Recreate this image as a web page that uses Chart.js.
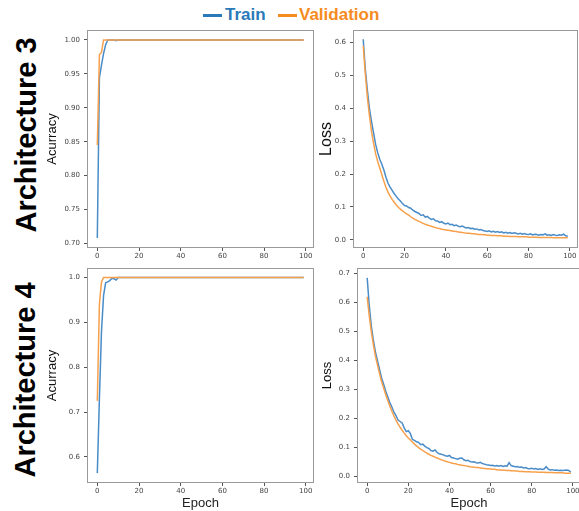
<!DOCTYPE html>
<html>
<head>
<meta charset="utf-8">
<script src="https://cdn.jsdelivr.net/npm/chart.js@4.4.1/dist/chart.umd.min.js"></script>
<style>
  html, body { margin: 0; padding: 0; background: #fff; }
  body { width: 579px; height: 511px; position: relative; overflow: hidden; font-family: "Liberation Sans", Arial, sans-serif; }
  canvas { position: absolute; }
  .row-label { position: absolute; font-weight: bold; font-size: 29px; line-height: 29px; white-space: nowrap; color: #000; transform: translate(-50%, -50%) rotate(-90deg); }
  .dash { position: absolute; height: 3px; width: 19px; }
  .leg { position: absolute; font-weight: bold; font-size: 17px; line-height: 17px; white-space: nowrap; }
</style>
</head>
<body>
<div class="dash" style="left:203px; top:14px; background:#2a7ab9"></div>
<div class="leg" style="left:225px; top:6px; color:#2a7ab9">Train</div>
<div class="dash" style="left:278px; top:14px; background:#f68b1f"></div>
<div class="leg" style="left:299px; top:6px; color:#f68b1f">Validation</div>

<div class="row-label" style="left:26px; top:135px">Architecture 3</div>
<div class="row-label" style="left:25px; top:380px">Architecture 4</div>

<canvas id="acc3" width="278" height="245" style="left:40px; top:20px"></canvas>
<canvas id="loss3" width="278" height="245" style="left:312px; top:20px"></canvas>
<canvas id="acc4" width="278" height="253" style="left:40px; top:258px"></canvas>
<canvas id="loss4" width="278" height="253" style="left:312px; top:258px"></canvas>

<script>
// values, one entry per epoch (0..99)
const trainAcc3 = [
  0.708,0.944,0.963,0.980,0.993,1.000,1.000,1.000,1.000,0.999,
  1,1,1,1,1,1,1,1,1,1, 1,1,1,1,1,1,1,1,1,1, 1,1,1,1,1,1,1,1,1,1,
  1,1,1,1,1,1,1,1,1,1, 1,1,1,1,1,1,1,1,1,1, 1,1,1,1,1,1,1,1,1,1,
  1,1,1,1,1,1,1,1,1,1, 1,1,1,1,1,1,1,1,1,1, 1,1,1,1,1,1,1,1,1,1
];
const valAcc3 = [
  0.845,0.978,0.982,1,1,1,1,1,1,1,
  1,1,1,1,1,1,1,1,1,1, 1,1,1,1,1,1,1,1,1,1, 1,1,1,1,1,1,1,1,1,1,
  1,1,1,1,1,1,1,1,1,1, 1,1,1,1,1,1,1,1,1,1, 1,1,1,1,1,1,1,1,1,1,
  1,1,1,1,1,1,1,1,1,1, 1,1,1,1,1,1,1,1,1,1, 1,1,1,1,1,1,1,1,1,1
];
const trainLoss3 = [
  0.610,0.520,0.455,0.400,0.360,0.325,0.290,0.265,0.245,0.230,
  0.212,0.190,0.172,0.160,0.150,0.140,0.132,0.124,0.118,0.110,
  0.104,0.103,0.098,0.096,0.090,0.086,0.083,0.080,0.074,0.076,
  0.069,0.071,0.066,0.062,0.064,0.058,0.057,0.053,0.055,0.050,
  0.048,0.051,0.046,0.047,0.043,0.045,0.041,0.040,0.042,0.038,
  0.036,0.037,0.034,0.035,0.032,0.033,0.030,0.031,0.028,0.027,
  0.025,0.027,0.024,0.026,0.023,0.025,0.022,0.024,0.021,0.023,
  0.020,0.022,0.019,0.021,0.020,0.018,0.020,0.017,0.019,0.017,
  0.016,0.018,0.015,0.017,0.016,0.014,0.016,0.015,0.018,0.014,
  0.015,0.013,0.016,0.014,0.013,0.015,0.014,0.017,0.012,0.011
];
const valLoss3 = [
  0.590,0.505,0.434,0.378,0.330,0.293,0.262,0.238,0.218,0.198,
  0.178,0.160,0.145,0.133,0.123,0.114,0.106,0.099,0.093,0.088,
  0.083,0.079,0.075,0.070,0.066,0.062,0.059,0.056,0.053,0.050,
  0.047,0.045,0.043,0.041,0.039,0.037,0.035,0.034,0.032,0.031,
  0.030,0.029,0.028,0.027,0.026,0.025,0.024,0.023,0.022,0.021,
  0.020,0.020,0.019,0.018,0.018,0.017,0.016,0.016,0.015,0.015,
  0.014,0.014,0.013,0.013,0.013,0.012,0.012,0.012,0.011,0.011,
  0.011,0.010,0.010,0.010,0.010,0.009,0.009,0.009,0.009,0.009,
  0.008,0.008,0.008,0.008,0.008,0.007,0.007,0.007,0.007,0.007,
  0.007,0.007,0.006,0.006,0.006,0.006,0.006,0.006,0.006,0.006
];
const trainAcc4 = [
  0.564,0.730,0.880,0.960,0.988,0.990,0.993,0.998,0.997,0.994,
  1,1,1,1,1,1,1,1,1,1, 1,1,1,1,1,1,1,1,1,1, 1,1,1,1,1,1,1,1,1,1,
  1,1,1,1,1,1,1,1,1,1, 1,1,1,1,1,1,1,1,1,1, 1,1,1,1,1,1,1,1,1,1,
  1,1,1,1,1,1,1,1,1,1, 1,1,1,1,1,1,1,1,1,1, 1,1,1,1,1,1,1,1,1,1
];
const valAcc4 = [
  0.725,0.940,0.990,1,1,1,1,1,1,1,
  1,1,1,1,1,1,1,1,1,1, 1,1,1,1,1,1,1,1,1,1, 1,1,1,1,1,1,1,1,1,1,
  1,1,1,1,1,1,1,1,1,1, 1,1,1,1,1,1,1,1,1,1, 1,1,1,1,1,1,1,1,1,1,
  1,1,1,1,1,1,1,1,1,1, 1,1,1,1,1,1,1,1,1,1, 1,1,1,1,1,1,1,1,1,1
];
const trainLoss4 = [
  0.685,0.590,0.520,0.470,0.430,0.400,0.370,0.340,0.318,0.295,
  0.275,0.255,0.240,0.222,0.210,0.195,0.190,0.185,0.168,0.155,
  0.158,0.148,0.128,0.125,0.120,0.118,0.110,0.112,0.105,0.100,
  0.097,0.090,0.088,0.092,0.083,0.079,0.077,0.075,0.072,0.070,
  0.073,0.066,0.064,0.062,0.060,0.063,0.064,0.058,0.055,0.056,
  0.052,0.050,0.051,0.048,0.047,0.049,0.045,0.043,0.041,0.040,
  0.038,0.039,0.037,0.038,0.036,0.038,0.035,0.037,0.036,0.048,
  0.038,0.036,0.034,0.035,0.032,0.033,0.030,0.031,0.028,0.027,
  0.029,0.026,0.028,0.025,0.027,0.025,0.026,0.034,0.026,0.023,
  0.024,0.022,0.023,0.021,0.022,0.021,0.022,0.023,0.021,0.015
];
const valLoss4 = [
  0.620,0.555,0.500,0.455,0.415,0.385,0.355,0.328,0.305,0.283,
  0.262,0.243,0.225,0.209,0.195,0.182,0.170,0.160,0.150,0.141,
  0.133,0.126,0.119,0.112,0.106,0.100,0.095,0.090,0.085,0.081,
  0.077,0.073,0.070,0.067,0.064,0.061,0.058,0.056,0.053,0.051,
  0.049,0.047,0.045,0.044,0.042,0.041,0.039,0.038,0.037,0.036,
  0.034,0.033,0.032,0.031,0.031,0.030,0.029,0.028,0.027,0.027,
  0.026,0.025,0.025,0.024,0.023,0.023,0.022,0.022,0.021,0.021,
  0.020,0.020,0.019,0.019,0.018,0.018,0.018,0.017,0.017,0.017,
  0.016,0.016,0.016,0.015,0.015,0.015,0.015,0.014,0.014,0.014,
  0.014,0.013,0.013,0.013,0.013,0.013,0.012,0.012,0.012,0.012
];

const epochTicks = [0, 20, 40, 60, 80, 100];
const accTicks3 = [0.70, 0.75, 0.80, 0.85, 0.90, 0.95, 1.00];
const lossTicks3 = [0.0, 0.1, 0.2, 0.3, 0.4, 0.5, 0.6];
const accTicks4 = [0.6, 0.7, 0.8, 0.9, 1.0];
const lossTicks4 = [0.0, 0.1, 0.2, 0.3, 0.4, 0.5, 0.6, 0.7];

const TRAIN_COLOR = "#4a8cc8";
const VAL_COLOR = "#f7a04c";
const tickFont = { family: "DejaVu Sans", size: 7 };

// matplotlib-style box around the axes
const frame = {
  id: "frame",
  afterDatasetsDraw(chart) {
    const { ctx, chartArea: a } = chart;
    ctx.save();
    ctx.strokeStyle = "#9a9a9a";
    ctx.lineWidth = 1;
    ctx.strokeRect(Math.round(a.left) + 0.5, Math.round(a.top) + 0.5, Math.round(a.width) - 1, Math.round(a.height) - 1);
    ctx.restore();
  }
};

const toPts = (arr) => arr.map((v, i) => ({ x: i, y: v }));

function makePanel(id, p) {
  return new Chart(document.getElementById(id), {
    type: "line",
    data: {
      datasets: [
        { label: "Validation", data: toPts(p.val), borderColor: VAL_COLOR, borderWidth: 1.5, pointRadius: 0, order: 0 },
        { label: "Train", data: toPts(p.train), borderColor: TRAIN_COLOR, borderWidth: 1.5, pointRadius: 0, order: 1 },
      ],
    },
    options: {
      responsive: false,
      animation: false,
      layout: { padding: { top: p.padTop, right: p.padRight, left: 0, bottom: 0 } },
      plugins: { legend: { display: false }, tooltip: { enabled: false } },
      scales: {
        x: {
          type: "linear",
          min: -4.95,
          max: 103.95,
          afterBuildTicks: (s) => { s.ticks = epochTicks.map((v) => ({ value: v })); },
          afterFit: (s) => { s.height = p.xHeight; },
          ticks: { font: tickFont, color: "#444", padding: 1, maxRotation: 0, autoSkip: false },
          grid: { drawOnChartArea: false, drawTicks: true, tickLength: 3, color: "#555" },
          border: { display: false },
          title: {
            display: !!p.xTitle,
            text: p.xTitle || "",
            color: "#222",
            font: { family: "Liberation Sans", size: 13 },
            padding: { top: 0, bottom: 0 },
          },
        },
        y: {
          type: "linear",
          min: p.yMin,
          max: p.yMax,
          afterBuildTicks: (s) => { s.ticks = p.yTicks.map((v) => ({ value: v })); },
          afterFit: (s) => { s.width = p.yWidth; },
          ticks: { font: tickFont, color: "#444", padding: 4, callback: (v) => Number(v).toFixed(p.decimals) },
          grid: { drawOnChartArea: false, drawTicks: true, tickLength: 3, color: "#555" },
          border: { display: false },
          title: {
            display: true,
            text: p.yTitle,
            color: "#111",
            font: { family: "Liberation Sans", size: p.yTitleSize },
            padding: { top: p.yTitlePad, bottom: 0 },
          },
        },
      },
    },
    plugins: [frame],
  });
}

makePanel("acc3", {
  train: trainAcc3, val: valAcc3, yMin: 0.6934, yMax: 1.0146, yTicks: accTicks3, decimals: 2,
  yTitle: "Acurracy", yTitleSize: 13, yTitlePad: 5, yWidth: 47, xHeight: 17, padTop: 10, padRight: 4,
});
makePanel("loss3", {
  train: trainLoss3, val: valLoss3, yMin: -0.025, yMax: 0.638, yTicks: lossTicks3, decimals: 1,
  yTitle: "Loss", yTitleSize: 16, yTitlePad: 5, yWidth: 41, xHeight: 17, padTop: 10, padRight: 12,
});
makePanel("acc4", {
  train: trainAcc4, val: valAcc4, yMin: 0.542, yMax: 1.021, yTicks: accTicks4, decimals: 1,
  yTitle: "Acurracy", yTitleSize: 13, yTitlePad: 5, yWidth: 47, xHeight: 28, padTop: 10, padRight: 4, xTitle: "Epoch",
});
makePanel("loss4", {
  train: trainLoss4, val: valLoss4, yMin: -0.022, yMax: 0.719, yTicks: lossTicks4, decimals: 1,
  yTitle: "Loss", yTitleSize: 13, yTitlePad: 8, yWidth: 45, xHeight: 28, padTop: 10, padRight: 9, xTitle: "Epoch",
});
</script>
</body>
</html>
